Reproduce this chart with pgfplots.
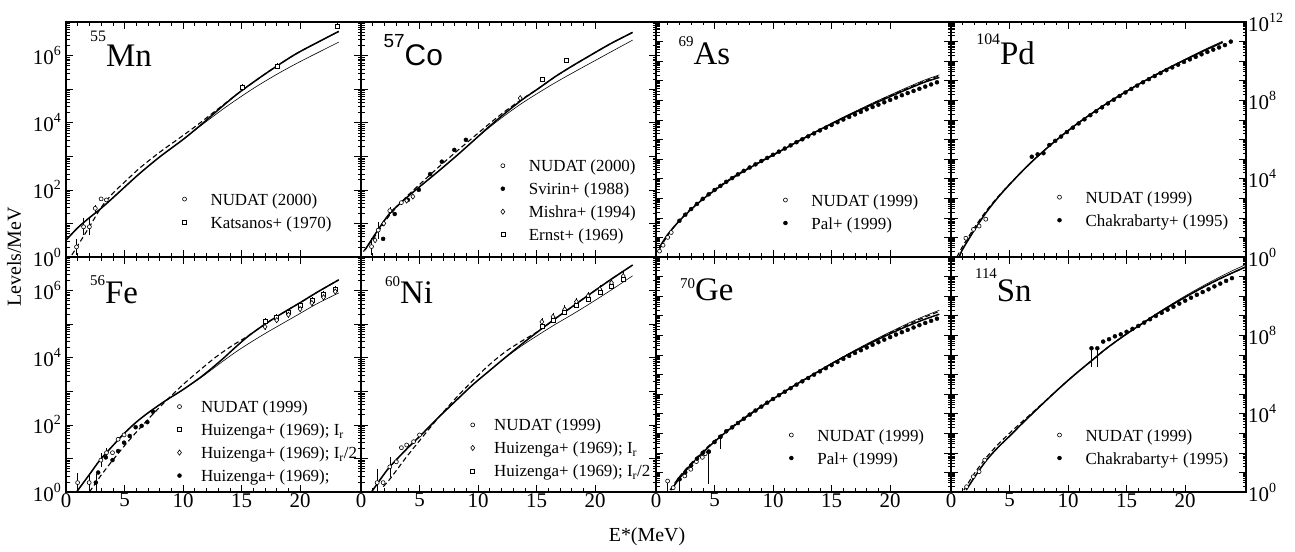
\documentclass[border=0pt]{standalone}
\usepackage{fontspec}
\setmainfont{Liberation Serif}
\newfontfamily\helv{Liberation Sans}
\usepackage{pgfplots}
\pgfplotsset{compat=1.18}

\gdef\mtA{0}
\foreach \d in {0,...,6}{\foreach \m in {0.301,0.477,0.602,0.699,0.778,0.845,0.903,0.954}{\pgfmathsetmacro\v{\d+\m}\xdef\mtA{\mtA,\v}}}
\gdef\mtB{0}
\foreach \d in {0,...,11}{\foreach \m in {0.301,0.477,0.602,0.699,0.778,0.845,0.903,0.954}{\pgfmathsetmacro\v{\d+\m}\xdef\mtB{\mtB,\v}}}

\newcommand\tl[1]{10\raisebox{9bp}{\fontsize{14}{14}\selectfont #1}}
\newcommand\iso[5][33]{{\fontsize{#3}{#3}\selectfont\raisebox{#4}{#2}}{\fontsize{#1}{#1}\selectfont #5}}

\pgfplotsset{
  legend image code/.code={\draw[#1] plot coordinates {(0bp,0bp)};},
  panel/.style={
    scale only axis, width=295bp, height=235bp, anchor=south west,
    xmin=0, xmax=25.2,
    xtick={0,5,10,15,20}, minor x tick num=4,
    tick align=inside,
    major tick length=7bp, minor tick length=3.5bp,
    axis line style={line width=1.1bp},
    every tick/.append style={line width=0.6bp, black},
    tick label style={font=\fontsize{21}{21}\selectfont},
    xticklabel style={inner sep=1bp},
    yticklabel style={inner sep=5bp},
    legend cell align=left,
    legend style={draw=none, fill=none, anchor=north west, inner sep=0pt, outer sep=0pt,
      font=\fontsize{17}{17}\selectfont, row sep=11bp, column sep=24bp,
      nodes={inner sep=0pt, text height=12bp, text depth=0bp}},
  },
  leftcol/.style={ymin=0, ymax=7, ytick={0,2,4,6}, extra y ticks={1,3,5,7}, extra y tick labels={},
    minor ytick/.expanded={\mtA}},
  rightcol/.style={ymin=0, ymax=12, extra y tick labels={}, minor ytick/.expanded={\mtB}},
  toprow/.style={xticklabels={}},
  botrow/.style={xticklabels={0,5,10,15,20}},
  thickc/.style={black, line width=1.5bp, smooth, no marks, forget plot},
  thinc/.style={black, line width=0.6bp, smooth, no marks, forget plot},
  dashc/.style={black, line width=1.1bp, dash pattern=on 5bp off 3bp, smooth, no marks, forget plot},
  nud/.style={black, only marks, mark=*, mark size=2bp, mark options={fill=white, line width=0.6bp, solid}},
  fil/.style={black, only marks, mark=*, mark size=2bp, mark options={fill=black, solid}},
  dia/.style={black, only marks, mark=diamond*, mark size=2.6bp, mark options={fill=white, line width=0.6bp, solid}},
  sqr/.style={black, only marks, mark=square*, mark size=2bp, mark options={fill=white, line width=0.6bp, solid}},
  ebar/.style={error bars/.cd, y dir=both, y explicit, error mark=none, error bar style={line width=0.6bp, black, solid}},
  ebarm/.style={error bars/.cd, y dir=minus, y explicit, error mark=none, error bar style={line width=0.6bp, black, solid}},
}

\begin{document}
\begin{tikzpicture}
\useasboundingbox (0,0) rectangle (1295bp,552bp);

% ---------------- 55Mn ----------------
\begin{axis}[panel, leftcol, toprow, at={(66bp,295bp)},
  yticklabels={\tl{0},\tl{2},\tl{4},\tl{6}},
  legend style={at={(axis description cs:0.395,0.272)}}]
\addplot[thickc] coordinates {(0,0.5) (1,0.87) (2,1.17) (2.9,1.42) (4,1.76) (5,2.08) (6.3,2.49) (8,2.98) (10,3.5) (11.4,3.9) (12.5,4.23) (13.5,4.53) (14.5,4.82) (15.5,5.08) (17,5.45) (18.5,5.8) (20,6.12) (23.3,6.72)};
\addplot[thinc] coordinates {(0,0.5) (1,0.87) (2,1.17) (2.9,1.42) (4,1.76) (5,2.08) (6.3,2.49) (8,2.98) (10,3.5) (11.4,3.88) (13,4.3) (14.2,4.6) (16,5.02) (18,5.44) (20,5.82) (23.3,6.4)};
\addplot[dashc] coordinates {(0.5,0.06) (1.2,0.45) (2,0.9) (2.9,1.42) (3.5,1.7) (4.2,1.97) (5,2.23) (6.3,2.65) (8,3.12) (10,3.62) (11.4,3.98) (12.5,4.28) (13.5,4.55) (14.5,4.82) (15.5,5.08) (17,5.45) (18.5,5.8) (20,6.12) (23.3,6.72)};
\addplot[nud, ebar] coordinates {(0.9,0.3) +- (0,0.25) (1.5,0.9) +- (0,0.25) (2.0,0.9) +- (0,0.25) (2.5,1.45) +- (0,0.1) (3.0,1.73) +- (0,0) (3.45,1.7) +- (0,0)};
\addlegendentry{NUDAT (2000)}
\addplot[sqr, ebar] coordinates {(15.1,5.05) +- (0,0.1) (18.05,5.69) +- (0,0.1) (23.2,6.88) +- (0,0.1)};
\addlegendentry{Katsanos+ (1970)}
\node[anchor=base west, inner sep=0pt] at (axis description cs:0.081,0.81) {\iso{55}{16}{25bp}{Mn}};
\end{axis}

% ---------------- 57Co ----------------
\begin{axis}[panel, leftcol, toprow, at={(361bp,295bp)}, yticklabels={},
  legend style={at={(axis description cs:0.474,0.414)}}]
\addplot[thickc] coordinates {(0.34,0.21) (1.4,0.78) (2.46,1.3) (3.9,1.77) (5.28,2.17) (6.7,2.58) (8.11,3.0) (9.5,3.43) (10.93,3.88) (12.3,4.28) (13.75,4.68) (15.2,5.03) (16.58,5.37) (18,5.68) (19.41,5.97) (21.3,6.35) (23.2,6.69)};
\addplot[thinc] coordinates {(0.34,0.21) (1.4,0.78) (2.46,1.3) (3.9,1.77) (5.28,2.17) (6.7,2.58) (8.11,3.0) (9.5,3.43) (10.93,3.85) (12.3,4.22) (13.75,4.58) (15.2,4.9) (16.58,5.19) (18,5.47) (19.41,5.74) (21.3,6.1) (23.2,6.46)};
\addplot[dashc] coordinates {(0.2,0.16) (1.4,0.72) (2.46,1.25) (3.9,1.8) (5.28,2.25) (6.7,2.7) (8.11,3.13) (9.5,3.54) (10.93,3.96) (12.3,4.34) (13.75,4.7) (15.2,5.03) (16.58,5.37) (18,5.68) (19.41,5.97) (21.3,6.35) (23.2,6.69)};
\addplot[nud, ebar] coordinates {(0.9,0.31) +- (0,0.25) (1.47,0.8) +- (0,0.25) (2.46,1.38) +- (0,0.1) (3.45,1.62) +- (0,0)};
\addlegendentry{NUDAT (2000)}
\addplot[fil] coordinates {(1.89,0.54) (2.88,1.28) (4.01,1.7) (4.94,2.0) (5.9,2.47) (6.9,2.84) (7.97,3.19) (8.96,3.49)};
\addlegendentry{Svirin+ (1988)}
\addplot[dia] coordinates {(1.2,0.5) (1.95,1.0) (3.9,1.68) (4.43,1.8) (13.6,4.73)};
\addlegendentry{Mishra+ (1994)}
\addplot[sqr] coordinates {(15.45,5.30) (17.57,5.85)};
\addlegendentry{Ernst+ (1969)}
\node[anchor=base west, inner sep=0pt] at (axis description cs:0.076,0.817) {\helv\iso[30]{57}{19}{18bp}{Co}};
\end{axis}

% ---------------- 69As ----------------
\begin{axis}[panel, rightcol, toprow, at={(656bp,295bp)}, ytick={0,4,8,12}, extra y ticks={1,2,3,5,6,7,9,10,11}, yticklabels={},
  legend style={at={(axis description cs:0.432,0.268)}}]
\addplot[thickc] coordinates {(0.3,0.5) (1,1.15) (2,1.85) (3,2.43) (4,2.95) (5,3.4) (6,3.82) (7,4.2) (8,4.55) (9,4.88) (10,5.2) (11,5.53) (12,5.86) (13,6.18) (14,6.5) (15,6.8) (16,7.1) (17,7.38) (18,7.66) (19,7.93) (20,8.19) (21,8.45) (22,8.7) (23,8.94) (24.2,9.17)};
\addplot[thinc] coordinates {(0.3,0.5) (1,1.15) (2,1.85) (3,2.43) (4,2.95) (5,3.4) (6,3.82) (7,4.2) (8,4.55) (9,4.88) (10,5.2) (11,5.53) (12,5.86) (13,6.19) (14,6.52) (15,6.83) (16,7.14) (17,7.43) (18,7.72) (19,8.0) (20,8.27) (21,8.54) (22,8.8) (23,9.05) (24.2,9.3)};
\addplot[dashc] coordinates {(0.3,0.4) (1,1.1) (2,1.88) (3,2.48) (4,3.0) (5,3.45) (6,3.86) (7,4.24) (8,4.58) (9,4.91) (10,5.23) (11,5.55) (12,5.87) (13,6.19) (14,6.51) (15,6.82) (16,7.12) (17,7.41) (18,7.69) (19,7.97) (20,8.23) (21,8.49) (22,8.75) (23,9.0) (24.2,9.25)};
\addplot[nud] coordinates {(0.3,0.3) (0.6,0.6) (1.0,1.0) (1.3,1.25)};
\addlegendentry{NUDAT (1999)}
\addplot[fil] coordinates {(2.0,1.85) (2.5,2.16) (3.0,2.45) (3.5,2.71) (4.0,2.97) (4.5,3.2) (5.0,3.42) (5.5,3.63) (6.0,3.84) (6.5,4.03) (7.0,4.22) (7.5,4.4) (8.0,4.57) (8.5,4.73) (9.0,4.9) (9.5,5.06) (10.0,5.22) (10.5,5.38) (11.0,5.54) (11.5,5.7) (12.0,5.86) (12.5,6.01) (13.0,6.16) (13.5,6.31) (14.0,6.46) (14.5,6.6) (15.0,6.74) (15.5,6.88) (16.0,7.02) (16.5,7.15) (17.0,7.28) (17.5,7.41) (18.0,7.54) (18.5,7.66) (19.0,7.78) (19.5,7.9) (20.0,8.02) (20.5,8.14) (21.0,8.26) (21.5,8.37) (22.0,8.48) (22.5,8.59) (23.0,8.7) (23.5,8.81) (24.0,8.92)};
\addlegendentry{Pal+ (1999)}
\node[anchor=base west, inner sep=0pt] at (axis description cs:0.076,0.817) {\iso{69}{15}{18bp}{As}};
\end{axis}

% ---------------- 104Pd ----------------
\begin{axis}[panel, rightcol, toprow, at={(951bp,295bp)}, ytick={0,4,8,12}, extra y ticks={1,2,3,5,6,7,9,10,11},
  yticklabel pos=right, yticklabel style={inner sep=2bp},
  yticklabels={\tl{0},\tl{4},\tl{8},\tl{12}},
  legend style={at={(axis description cs:0.361,0.280)}}]
\addplot[thickc] coordinates {(0.7,0) (1,0.4) (2,1.38) (3,2.27) (4,3.03) (5,3.7) (6,4.33) (7,4.92) (8,5.46) (9,5.97) (10,6.45) (11,6.9) (12,7.32) (13,7.72) (14,8.1) (15,8.46) (16,8.81) (17,9.14) (18,9.46) (19,9.77) (20,10.07) (21,10.36) (22,10.64) (23.2,10.96)};
\addplot[thinc] coordinates {(0.7,0) (1,0.4) (2,1.38) (3,2.27) (4,3.03) (5,3.7) (6,4.33) (7,4.92) (8,5.46) (9,5.97) (10,6.45) (11,6.9) (12,7.32) (13,7.72) (14,8.1) (15,8.47) (16,8.83) (17,9.16) (18,9.49) (19,9.8) (20,10.1) (21,10.4) (22,10.69) (23.2,11.02)};
\addplot[dashc] coordinates {(0.5,0) (1,0.55) (2,1.5) (3,2.35) (4,3.07) (5,3.72) (6,4.33) (7,4.92) (8,5.46) (9,5.97) (10,6.45) (11,6.9) (12,7.32) (13,7.72) (14,8.1) (15,8.46) (16,8.81) (17,9.14) (18,9.46) (19,9.77) (20,10.07) (21,10.36) (22,10.64) (23.2,10.96)};
\addplot[nud] coordinates {(1.27,0.96) (1.92,1.41) (2.4,1.58) (2.97,1.93)};
\addlegendentry{NUDAT (1999)}
\addplot[fil] coordinates {(6.9,5.12) (7.4,5.24) (7.9,5.3) (8.4,5.72) (8.9,5.93) (9.4,6.15) (9.9,6.38) (10.4,6.6) (10.9,6.82) (11.4,7.03) (11.9,7.24) (12.4,7.44) (12.9,7.64) (13.4,7.84) (13.9,8.03) (14.4,8.22) (14.9,8.4) (15.4,8.58) (15.9,8.75) (16.4,8.92) (16.9,9.08) (17.4,9.24) (17.9,9.39) (18.4,9.54) (18.9,9.68) (19.4,9.82) (19.9,9.96) (20.4,10.09) (20.9,10.22) (21.4,10.35) (21.9,10.47) (22.4,10.59) (22.9,10.7) (23.4,10.82) (23.9,11.0)};
\addlegendentry{Chakrabarty+ (1995)}
\node[anchor=base west, inner sep=0pt] at (axis description cs:0.085,0.817) {\iso{104}{16}{20bp}{Pd}};
\end{axis}

% ---------------- 56Fe ----------------
\begin{axis}[panel, leftcol, botrow, at={(66bp,60bp)},
  yticklabels={\tl{0},\tl{2},\tl{4},\tl{6}},
  legend style={at={(axis description cs:0.378,0.389)}, column sep=19.5bp}]
\addplot[thickc] coordinates {(0.9,0) (2,0.52) (2.9,0.95) (4,1.38) (4.9,1.72) (6,2.08) (7.1,2.38) (8.5,2.72) (10,3.05) (11.5,3.42) (12.5,3.7) (13.5,4.0) (14.5,4.32) (15.6,4.65) (17,5.0) (18.5,5.33) (20,5.64) (21.5,5.96) (23.3,6.32)};
\addplot[thinc] coordinates {(0.9,0) (2,0.52) (2.9,0.95) (4,1.38) (4.9,1.72) (6,2.08) (7.1,2.38) (8.5,2.72) (10,3.05) (11.5,3.4) (12.5,3.66) (13.5,3.92) (14.5,4.17) (15.6,4.42) (17,4.72) (18.5,5.02) (20,5.32) (21.5,5.62) (23.3,5.93)};
\addplot[dashc] coordinates {(2.0,0) (2.5,0.25) (3,0.5) (4,0.95) (5,1.38) (6,1.78) (7.1,2.2) (8.5,2.7) (10,3.2) (11.4,3.62) (12.8,4.02) (14.2,4.36) (15.6,4.66) (17,5.0) (18.5,5.33) (20,5.64) (21.5,5.96) (23.3,6.32)};
\addplot[nud, ebar] coordinates {(0.99,0.28) +- (0,0.28) (1.98,0.28) +- (0,0.25) (2.98,0.95) +- (0,0.2) (3.46,1.17) +- (0,0.15) (3.97,1.17) +- (0,0) (4.45,1.57) +- (0,0) (4.96,1.7) +- (0,0)};
\addlegendentry{NUDAT (1999)}
\addplot[sqr, ebar] coordinates {(17,5.09) +- (0,0.1) (18,5.2) +- (0,0.1) (19,5.35) +- (0,0.1) (20,5.55) +- (0,0.1) (21,5.72) +- (0,0.1) (22,5.88) +- (0,0.1) (23,6.05) +- (0,0.1)};
\addlegendentry{Huizenga+ (1969); I\textsubscript{r}}
\addplot[dia, ebar] coordinates {(17,4.92) +- (0,0.1) (18,5.12) +- (0,0.1) (19,5.28) +- (0,0.1) (20,5.45) +- (0,0.1) (21,5.63) +- (0,0.1) (22,5.8) +- (0,0.1) (23,5.97) +- (0,0.1)};
\addlegendentry{Huizenga+ (1969); I\textsubscript{r}/2}
\addplot[fil, ebar] coordinates {(2.55,0.28) +- (0,0.25) (2.75,0.58) +- (0,0) (3.4,1.03) +- (0,0) (3.97,0.95) +- (0,0) (4.45,1.22) +- (0,0) (4.96,1.47) +- (0,0) (5.44,1.67) +- (0,0) (5.95,1.93) +- (0,0) (6.46,1.97) +- (0,0) (6.95,2.08) +- (0,0) (7.43,2.39) +- (0,0)};
\addlegendentry{Huizenga+ (1969);}
\node[anchor=base west, inner sep=0pt] at (axis description cs:0.081,0.803) {\iso{56}{15}{18bp}{Fe}};
\end{axis}

% ---------------- 60Ni ----------------
\begin{axis}[panel, leftcol, botrow, at={(361bp,60bp)}, yticklabels={},
  legend style={at={(axis description cs:0.372,0.311)}, column sep=19.5bp}]
\addplot[thickc] coordinates {(0.9,0) (1.7,0.4) (2.46,0.75) (3.9,1.28) (5.28,1.75) (6.7,2.25) (8.11,2.72) (9.5,3.18) (10.93,3.6) (12.3,4.0) (13.75,4.41) (15.2,4.8) (16.58,5.16) (18,5.51) (19.41,5.86) (21.3,6.32) (23.2,6.76)};
\addplot[thinc] coordinates {(0.9,0) (1.7,0.4) (2.46,0.75) (3.9,1.28) (5.28,1.75) (6.7,2.25) (8.11,2.72) (9.5,3.18) (10.93,3.6) (12.3,3.99) (13.75,4.36) (15.2,4.69) (16.58,4.99) (18,5.28) (19.41,5.58) (21.3,6.0) (23.2,6.44)};
\addplot[dashc] coordinates {(1.9,0.16) (2.5,0.4) (3.9,1.05) (5.28,1.65) (6.7,2.25) (8.11,2.8) (9.5,3.3) (10.93,3.78) (12.3,4.17) (13.75,4.5) (15.2,4.8) (16.58,5.16) (18,5.51) (19.41,5.86) (21.3,6.32) (23.2,6.76)};
\addplot[nud, ebar] coordinates {(1.38,0.28) +- (0,0.4) (1.89,0.28) +- (0,0) (2.46,0.75) +- (0,0.3) (3.02,0.9) +- (0,0) (3.45,1.32) +- (0,0) (3.9,1.4) +- (0,0) (4.49,1.5) +- (0,0) (5.0,1.7) +- (0,0)};
\addlegendentry{NUDAT (1999)}
\addplot[dia, ebar] coordinates {(15.45,5.07) +- (0,0.12) (16.4,5.22) +- (0,0.12) (17.4,5.44) +- (0,0.12) (18.4,5.67) +- (0,0.12) (19.4,5.84) +- (0,0.12) (20.4,6.04) +- (0,0.12) (21.4,6.23) +- (0,0.12) (22.4,6.43) +- (0,0.12)};
\addlegendentry{Huizenga+ (1969); I\textsubscript{r}}
\addplot[sqr] coordinates {(15.45,4.95) (16.4,5.12) (17.4,5.35) (18.4,5.55) (19.4,5.75) (20.4,5.95) (21.4,6.13) (22.4,6.33)};
\addlegendentry{Huizenga+ (1969); I\textsubscript{r}/2}
\node[anchor=base west, inner sep=0pt] at (axis description cs:0.081,0.803) {\iso{60}{15}{17bp}{Ni}};
\end{axis}

% ---------------- 70Ge ----------------
\begin{axis}[panel, rightcol, botrow, at={(656bp,60bp)}, ytick={0,4,8}, extra y ticks={1,2,3,5,6,7,9,10,11,12}, yticklabels={},
  legend style={at={(axis description cs:0.452,0.268)}}]
\addplot[thickc] coordinates {(1.3,0.1) (2,0.7) (3,1.4) (4,2.02) (5,2.57) (6,3.07) (7,3.52) (8,3.95) (9,4.36) (10,4.75) (11,5.13) (12,5.5) (13,5.85) (14,6.2) (15,6.55) (16,6.88) (17,7.2) (18,7.5) (19,7.8) (20,8.08) (21,8.35) (22,8.6) (23,8.83) (24.2,9.08)};
\addplot[thinc] coordinates {(1.3,0.1) (2,0.7) (3,1.4) (4,2.02) (5,2.57) (6,3.07) (7,3.52) (8,3.95) (9,4.36) (10,4.75) (11,5.13) (12,5.5) (13,5.86) (14,6.22) (15,6.57) (16,6.91) (17,7.24) (18,7.56) (19,7.87) (20,8.17) (21,8.46) (22,8.74) (23,9.0) (24.2,9.28)};
\addplot[dashc] coordinates {(1.2,0.1) (2,0.78) (3,1.47) (4,2.08) (5,2.62) (6,3.11) (7,3.56) (8,3.98) (9,4.38) (10,4.77) (11,5.14) (12,5.51) (13,5.86) (14,6.21) (15,6.56) (16,6.9) (17,7.22) (18,7.53) (19,7.84) (20,8.13) (21,8.41) (22,8.68) (23,8.94) (24.2,9.22)};
\addplot[nud, ebarm] coordinates {(0.99,0.56) -= (0,0.56) (1.47,0.22) -= (0,0) (2.46,0.82) -= (0,0) (2.97,1.16) -= (0,0) (3.45,1.55) -= (0,0) (3.96,1.77) -= (0,0) (4.2,1.95) -= (0,0)};
\addlegendentry{NUDAT (1999)}
\addplot[fil] coordinates {(2.0,0.65) (2.5,1.0) (3.0,1.35) (3.5,1.7) (4.0,2.0) (4.5,2.06) (5.0,2.55) (5.5,2.82) (6.0,3.1) (6.5,3.3) (7.0,3.52) (7.5,3.74) (8.0,3.95) (8.5,4.16) (9.0,4.36) (9.5,4.56) (10.0,4.75) (10.5,4.94) (11.0,5.12) (11.5,5.3) (12.0,5.48) (12.5,5.65) (13.0,5.82) (13.5,5.99) (14.0,6.16) (14.5,6.32) (15.0,6.48) (15.5,6.64) (16.0,6.8) (16.5,6.95) (17.0,7.1) (17.5,7.24) (18.0,7.38) (18.5,7.52) (19.0,7.65) (19.5,7.78) (20.0,7.91) (20.5,8.04) (21.0,8.16) (21.5,8.28) (22.0,8.4) (22.5,8.52) (23.0,8.63) (23.5,8.74) (24.0,8.85)};
\addlegendentry{Pal+ (1999)}
\addplot[forget plot, fil, ebarm] coordinates {(2.0,0.65) -= (0,0.65) (4.5,2.06) -= (0,1.66) (5.5,2.82) -= (0,0.64)};
\node[anchor=base west, inner sep=0pt] at (axis description cs:0.081,0.817) {\iso{70}{15}{12bp}{Ge}};
\end{axis}

% ---------------- 114Sn ----------------
\begin{axis}[panel, rightcol, botrow, at={(951bp,60bp)}, ytick={0,4,8}, extra y ticks={1,2,3,5,6,7,9,10,11,12},
  yticklabel pos=right, yticklabel style={inner sep=2bp},
  yticklabels={\tl{0},\tl{4},\tl{8}},
  legend style={at={(axis description cs:0.361,0.268)}}]
\addplot[thickc] coordinates {(1.3,0.1) (2,0.75) (3,1.6) (4,2.27) (5,2.85) (6,3.45) (7,4.03) (8,4.6) (9,5.16) (10,5.7) (11,6.21) (12,6.7) (13,7.2) (14,7.65) (15,8.07) (16,8.47) (17,8.86) (18,9.24) (19,9.6) (20,9.95) (21,10.28) (22,10.6) (23,10.9) (24,11.18) (25.2,11.5)};
\addplot[thinc] coordinates {(1.3,0.1) (2,0.75) (3,1.6) (4,2.27) (5,2.85) (6,3.45) (7,4.03) (8,4.6) (9,5.16) (10,5.7) (11,6.21) (12,6.7) (13,7.2) (14,7.65) (15,8.08) (16,8.49) (17,8.89) (18,9.28) (19,9.65) (20,10.01) (21,10.35) (22,10.68) (23,10.99) (24,11.29) (25.2,11.62)};
\addplot[dashc] coordinates {(1.1,0.1) (2,0.95) (3,1.75) (4,2.42) (5,3.0) (6,3.55) (7,4.08) (8,4.62) (9,5.17) (10,5.7) (11,6.21) (12,6.7) (13,7.2) (14,7.65) (15,8.07) (16,8.47) (17,8.86) (18,9.24) (19,9.6) (20,9.95) (21,10.28) (22,10.6) (23,10.9) (24,11.18) (25.2,11.5)};
\addplot[nud] coordinates {(1.33,0.27) (1.9,0.78) (2.4,1.04) (2.88,1.63)};
\addlegendentry{NUDAT (1999)}
\addplot[fil, ebarm] coordinates {(12.0,7.34) -= (0,0.94) (12.5,7.34) -= (0,0.94) (13.0,7.68) -= (0,0) (13.5,7.8) -= (0,0) (14.0,7.95) -= (0,0) (14.5,8.05) -= (0,0) (15.0,8.18) -= (0,0) (15.5,8.33) -= (0,0) (16.0,8.48) -= (0,0) (16.5,8.65) -= (0,0) (17.0,8.82) -= (0,0) (17.5,8.99) -= (0,0) (18.0,9.15) -= (0,0) (18.5,9.31) -= (0,0) (19.0,9.46) -= (0,0) (19.5,9.62) -= (0,0) (20.0,9.77) -= (0,0) (20.5,9.92) -= (0,0) (21.0,10.07) -= (0,0) (21.5,10.21) -= (0,0) (22.0,10.35) -= (0,0) (22.5,10.5) -= (0,0) (23.0,10.64) -= (0,0) (23.5,10.78) -= (0,0) (24.0,10.92) -= (0,0)};
\addlegendentry{Chakrabarty+ (1995)}
\node[anchor=base west, inner sep=0pt] at (axis description cs:0.081,0.81) {\iso{114}{15}{23bp}{Sn}};
\end{axis}

\node[rotate=90, font=\fontsize{20}{20}\selectfont] at (14bp,295bp) {Levels/MeV};
\node[font=\fontsize{20}{20}\selectfont] at (647bp,15bp) {E*(MeV)};
\end{tikzpicture}
\end{document}
